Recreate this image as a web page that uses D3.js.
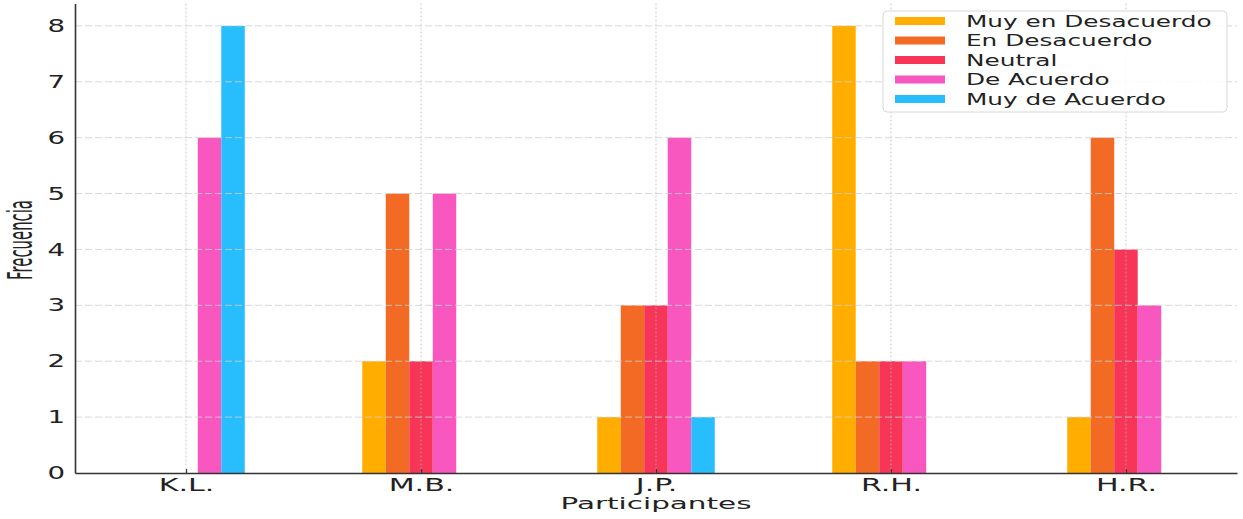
<!DOCTYPE html>
<html>
<head>
<meta charset="utf-8">
<script src="https://cdn.jsdelivr.net/npm/d3@7"></script>
<style>
  body { margin: 0; background: #fff; }
  svg { display: block; font-family: "DejaVu Sans", sans-serif; }
</style>
</head>
<body>
<main></main>
<script>
const width = 1243;
const height = 519;

const participants = ['K.L.', 'M.B.', 'J.P.', 'R.H.', 'H.R.'];
const levels = ['Muy en Desacuerdo', 'En Desacuerdo', 'Neutral', 'De Acuerdo', 'Muy de Acuerdo'];
const colors = ['#ffae00', '#f36a24', '#f63559', '#f857bf', '#28bdfd'];

// frecuencia por nivel, en el orden de participants
const muyDesacuerdo = [0, 2, 1, 8, 1];
const desacuerdo = [0, 5, 3, 2, 6];
const neutral = [0, 2, 3, 2, 4];
const deAcuerdo = [6, 5, 6, 2, 3];
const muyAcuerdo = [8, 0, 1, 0, 0];
const series = [muyDesacuerdo, desacuerdo, neutral, deAcuerdo, muyAcuerdo];

const yTicks = [0, 1, 2, 3, 4, 5, 6, 7, 8];

const plotLeft = 75, plotRight = 1237, plotTop = 3.5, plotBottom = 473;
const barW = 0.1;

const svg = d3.select('main')
              .append('svg')
              .attr('width', width)
              .attr('height', height);

const xScale = d3.scaleLinear().domain([-0.4725, 4.4725]).range([plotLeft, plotRight]);
const yScale = d3.scaleLinear().domain([0, 8.4]).range([plotBottom, plotTop]);

// bars
series.forEach((vals, s) => {
    const rows = vals.map((v, i) => ({ i, v })).filter(d => d.v > 0);
    svg.append('g')
       .selectAll('rect')
       .data(rows)
       .enter()
       .append('rect')
       .attr('x', d => xScale(d.i + (s - 2) * barW - barW / 2))
       .attr('y', d => yScale(d.v))
       .attr('width', xScale(barW) - xScale(0))
       .attr('height', d => yScale(0) - yScale(d.v))
       .attr('fill', colors[s]);
});

// grid, drawn over the bars like the original
svg.append('g')
   .selectAll('line')
   .data(yTicks.slice(1))
   .enter()
   .append('line')
   .attr('x1', plotLeft).attr('x2', plotRight)
   .attr('y1', d => yScale(d)).attr('y2', d => yScale(d))
   .attr('stroke', '#cfcfcf')
   .attr('stroke-opacity', 0.8)
   .attr('stroke-dasharray', '7,3');

svg.append('g')
   .selectAll('line')
   .data(participants)
   .enter()
   .append('line')
   .attr('x1', (d, i) => xScale(i)).attr('x2', (d, i) => xScale(i))
   .attr('y1', plotTop).attr('y2', plotBottom)
   .attr('stroke', '#b8b8b8')
   .attr('stroke-opacity', 0.7)
   .attr('stroke-dasharray', '2,2');

// axes
const xAxis = svg.append('g')
   .attr('transform', 'translate(0,' + plotBottom + ')')
   .call(d3.axisBottom(xScale)
           .tickValues(d3.range(participants.length))
           .tickFormat(i => participants[i])
           .tickSizeInner(-4)
           .tickSizeOuter(0)
           .tickPadding(6));

const yAxis = svg.append('g')
   .attr('transform', 'translate(' + plotLeft + ',0)')
   .call(d3.axisLeft(yScale)
           .tickValues(yTicks)
           .tickSize(0)
           .tickPadding(7));

[xAxis, yAxis].forEach(ax => {
    ax.select('.domain').attr('stroke', '#333').attr('stroke-width', 1.6);
    ax.selectAll('.tick line').attr('stroke', '#333').attr('stroke-width', 1.2);
    ax.selectAll('.tick text')
      .attr('fill', '#222')
      .attr('font-family', 'DejaVu Sans')
      .attr('font-size', 17.5);
});
xAxis.selectAll('.tick text').attr('transform', 'scale(1.72,1)');
yAxis.selectAll('.tick text').attr('transform', 'scale(1.58,1)').attr('x', -6.3);

// axis labels
svg.append('text')
   .attr('transform', 'translate(656,509) scale(1.9,1)')
   .attr('text-anchor', 'middle')
   .attr('font-size', 15.5)
   .attr('fill', '#222')
   .text('Participantes');

svg.append('text')
   .attr('transform', 'translate(32,240) rotate(-90) scale(0.45,1)')
   .attr('text-anchor', 'middle')
   .attr('font-size', 33)
   .attr('fill', '#222')
   .text('Frecuencia');

// legend
const legend = svg.append('g');
legend.append('rect')
      .attr('x', 883).attr('y', 11)
      .attr('width', 344).attr('height', 101)
      .attr('rx', 4)
      .attr('fill', '#fff').attr('fill-opacity', 0.85)
      .attr('stroke', '#d8d8d8');

levels.forEach((name, i) => {
    const cy = 21 + i * 19.5;
    legend.append('rect')
          .attr('x', 895).attr('y', cy - 4)
          .attr('width', 50).attr('height', 8)
          .attr('fill', colors[i]);
    legend.append('text')
          .attr('transform', 'translate(966,' + cy + ') scale(1.5,1)')
          .attr('dy', '0.36em')
          .attr('font-size', 16.5)
          .attr('fill', '#222')
          .text(name);
});
</script>
</body>
</html>
